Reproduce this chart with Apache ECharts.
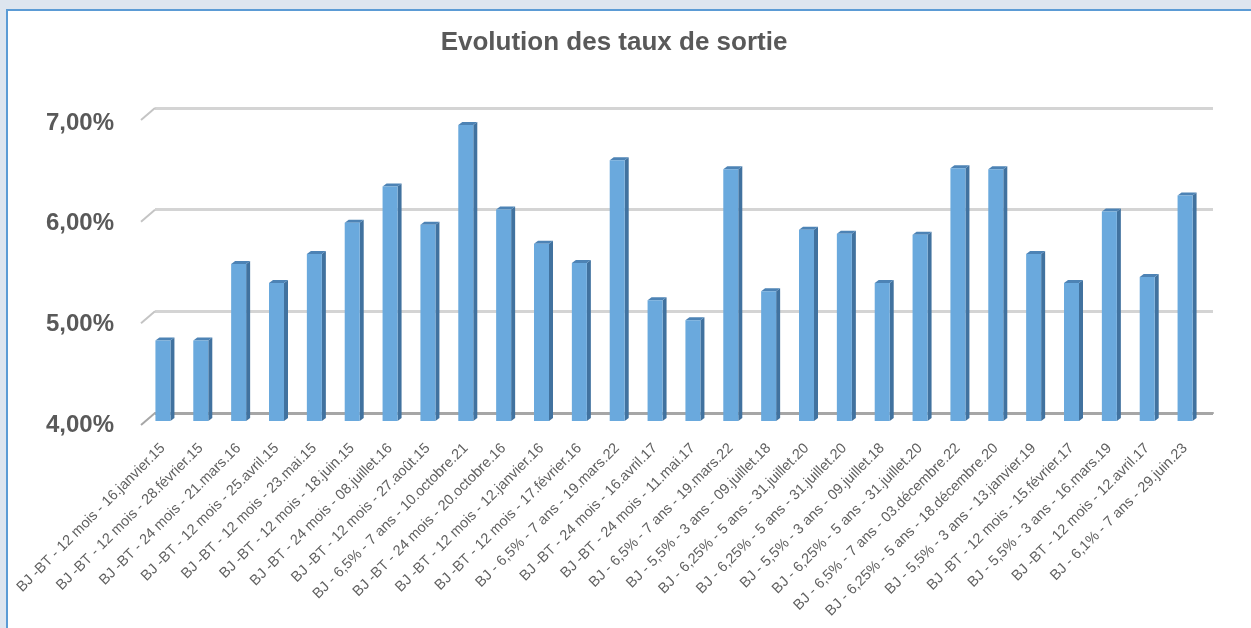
<!DOCTYPE html>
<html>
<head>
<meta charset="utf-8">
<script src="https://cdn.jsdelivr.net/npm/echarts@6/dist/echarts.min.js"></script>
<style>
  html, body { margin: 0; padding: 0; background: #dde5ef; width: 1251px; height: 628px; overflow: hidden; }
  #panel { position: absolute; left: 6px; top: 9px; width: 1250px; height: 625px; background: #ffffff; border-left: 2px solid #5b9bd5; border-top: 2px solid #5b9bd5; }
  #chart { position: absolute; left: 0; top: 0; width: 1251px; height: 628px; }
</style>
</head>
<body>
<div id="panel"></div>
<div id="chart"></div>
<script>
const categories = [
  "BJ -BT - 12 mois - 16.janvier.15",
  "BJ -BT - 12 mois - 28.février.15",
  "BJ -BT - 24 mois - 21.mars.16",
  "BJ -BT - 12 mois - 25.avril.15",
  "BJ -BT - 12 mois - 23.mai.15",
  "BJ -BT - 12 mois - 18.juin.15",
  "BJ -BT - 24 mois - 08.juillet.16",
  "BJ -BT - 12 mois - 27.août.15",
  "BJ - 6,5% - 7 ans - 10.octobre.21",
  "BJ -BT - 24 mois - 20.octobre.16",
  "BJ -BT - 12 mois - 12.janvier.16",
  "BJ -BT - 12 mois - 17.février.16",
  "BJ - 6,5% - 7 ans - 19.mars.22",
  "BJ -BT - 24 mois - 16.avril.17",
  "BJ -BT - 24 mois - 11.mai.17",
  "BJ - 6,5% - 7 ans - 19.mars.22",
  "BJ - 5,5% - 3 ans - 09.juillet.18",
  "BJ - 6,25% - 5 ans - 31.juillet.20",
  "BJ - 6,25% - 5 ans - 31.juillet.20",
  "BJ - 5,5% - 3 ans - 09.juillet.18",
  "BJ - 6,25% - 5 ans - 31.juillet.20",
  "BJ - 6,5% - 7 ans - 03.décembre.22",
  "BJ - 6,25% - 5 ans - 18.décembre.20",
  "BJ - 5,5% - 3 ans - 13.janvier.19",
  "BJ -BT - 12 mois - 15.février.17",
  "BJ - 5,5% - 3 ans - 16.mars.19",
  "BJ -BT - 12 mois - 12.avril.17",
  "BJ - 6,1% - 7 ans - 29.juin.23"
];
const tauxSortie = [
  4.80, 4.80, 5.56, 5.37, 5.66, 5.97, 6.33, 5.95, 6.94, 6.10,
  5.76, 5.57, 6.59, 5.20, 5.00, 6.50, 5.29, 5.90, 5.86, 5.37,
  5.85, 6.51, 6.50, 5.66, 5.37, 6.08, 5.43, 6.24
];
const yTicks = [4, 5, 6, 7];
const chartTitle = "Evolution des taux de sortie";

const chart = echarts.init(document.getElementById('chart'), null, { renderer: 'canvas' });

const barData = tauxSortie.map((v, i) => [i, v]);

function renderBar3D(params, api) {
  const i = api.value(0);
  const v = api.value(1);
  const top = api.coord([i, v]);
  const bot = api.coord([i, yTicks[0]]);
  const w = 15, dx = 4, dy = -3;
  const x0 = top[0] - w / 2;
  const x1 = x0 + w;
  const yT = top[1], yB = bot[1];
  return {
    type: 'group',
    children: [
      { type: 'polygon', shape: { points: [[x1, yT], [x1 + dx, yT + dy], [x1 + dx, yB + dy], [x1, yB]] },
        style: { fill: '#41729f' } },
      { type: 'polygon', shape: { points: [[x0, yT], [x0 + dx, yT + dy], [x1 + dx, yT + dy], [x1, yT]] },
        style: { fill: '#4d83b5' } },
      { type: 'rect', shape: { x: x0, y: yT, width: w, height: yB - yT },
        style: { fill: '#6aa9dd' } }
    ]
  };
}

function renderConnectors(params, api) {
  if (params.dataIndex !== 0) return null;
  const half = api.size([1, 0])[0] / 2;
  const children = yTicks.map((t, k) => {
    const p = api.coord([0, t]);
    const x = p[0] - half;
    return {
      type: 'line',
      shape: { x1: x, y1: p[1], x2: x - 14, y2: p[1] + 12 },
      style: { stroke: k === 0 ? '#a6a6a6' : '#c4c4c4', lineWidth: 2 }
    };
  });
  return { type: 'group', children };
}

const option = {
  animation: false,
  backgroundColor: 'transparent',
  title: {
    text: chartTitle,
    left: 609,
    textAlign: 'center',
    top: 25,
    textStyle: { fontFamily: 'Liberation Sans', fontSize: 26, fontWeight: 'bold', color: '#595959' }
  },
  grid: [
    { left: 144, right: 47, top: 119, bottom: 207 },
    { left: 155, right: 38, top: 108, bottom: 215 }
  ],
  xAxis: [
    {
      type: 'category', gridIndex: 0, data: categories,
      axisLine: { show: false }, axisTick: { show: false },
      axisLabel: { interval: 0, rotate: 45, margin: 25, fontSize: 14.5, color: '#606060', fontFamily: 'Liberation Sans' }
    },
    {
      type: 'category', gridIndex: 1, data: categories,
      axisLine: { show: true, lineStyle: { color: '#a6a6a6', width: 2 } },
      axisTick: { show: false }, axisLabel: { show: false }
    }
  ],
  yAxis: [
    {
      type: 'value', gridIndex: 0, min: 4, max: 7, interval: 1,
      axisLine: { show: false }, axisTick: { show: false }, splitLine: { show: false },
      axisLabel: {
        margin: 30,
        formatter: v => '{p|' + v.toFixed(2).replace('.', ',') + '%}',
        rich: {
          p: { fontSize: 24, fontWeight: 'bold', color: '#595959', fontFamily: 'Liberation Sans', padding: [8, 0, 0, 0] }
        }
      }
    },
    {
      type: 'value', gridIndex: 1, min: 4, max: 7, interval: 1,
      axisLine: { show: false }, axisTick: { show: false }, axisLabel: { show: false },
      splitLine: { show: true, lineStyle: { color: ['#a6a6a6', '#d4d4d4', '#d4d4d4', '#d4d4d4'], width: 3 } }
    }
  ],
  series: [
    {
      type: 'custom', xAxisIndex: 1, yAxisIndex: 1,
      renderItem: renderConnectors, data: barData, silent: true, z: 1
    },
    {
      type: 'custom', xAxisIndex: 0, yAxisIndex: 0,
      renderItem: renderBar3D, data: barData, z: 5,
      encode: { x: 0, y: 1 }
    }
  ]
};
chart.setOption(option);
</script>
</body>
</html>
